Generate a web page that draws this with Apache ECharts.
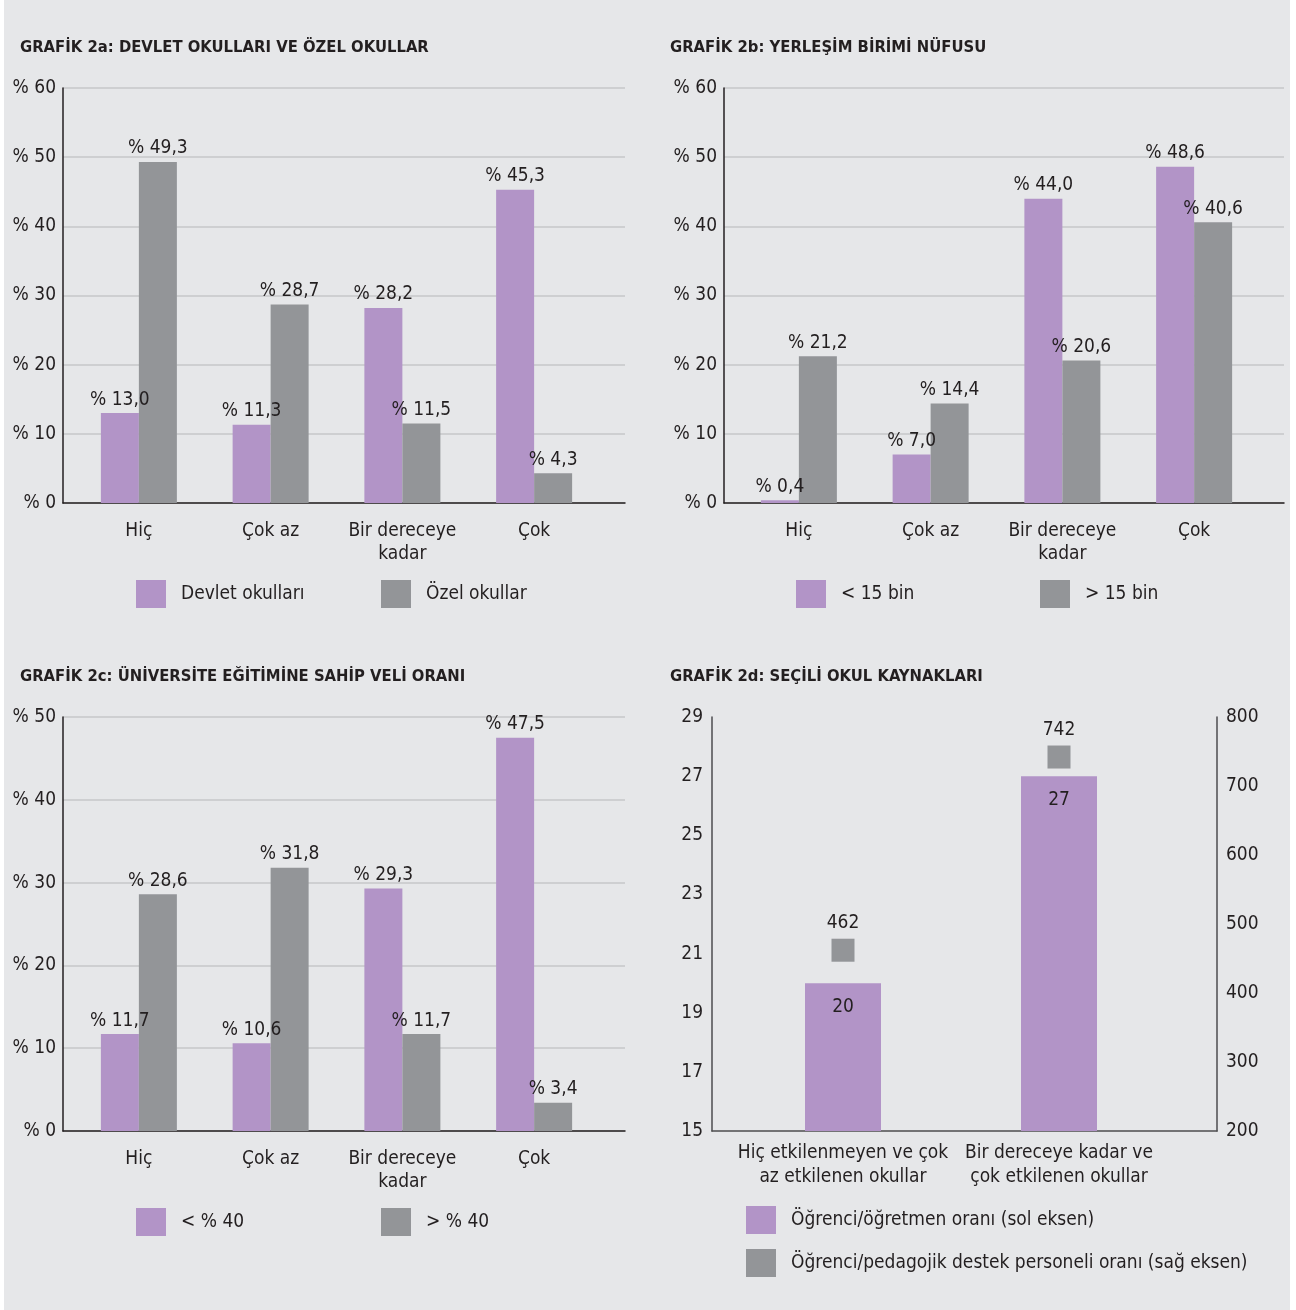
<!DOCTYPE html>
<html>
<head>
<meta charset="utf-8">
<title>Grafik 2</title>
<script src="https://cdn.jsdelivr.net/npm/echarts@6/dist/echarts.min.js"></script>
<style>
  html, body { margin: 0; padding: 0; background: #ffffff; }
  #chart { position: absolute; left: 4px; top: 0; width: 1286px; height: 1310px; background: #e6e7e9; }
</style>
</head>
<body>
<div id="chart"></div>
<script>
// Category labels
const categories = ['Hiç', 'Çok az', 'Bir dereceye\nkadar', 'Çok'];
const categories2d = ['Hiç etkilenmeyen ve çok\naz etkilenen okullar', 'Bir dereceye kadar ve\nçok etkilenen okullar'];

// 2a: public vs private schools (%)
const devletOkullari = [13.0, 11.3, 28.2, 45.3];
const ozelOkullar = [49.3, 28.7, 11.5, 4.3];

// 2b: settlement population (%)
const kucukYerlesim = [0.4, 7.0, 44.0, 48.6];
const buyukYerlesim = [21.2, 14.4, 20.6, 40.6];

// 2c: share of parents with university education (%)
const altYuzde40 = [11.7, 10.6, 29.3, 47.5];
const ustYuzde40 = [28.6, 31.8, 11.7, 3.4];

// 2d: selected school resources
const ogrenciOgretmen = [20, 27];
const ogrenciDestek = [462, 742];

// Axis ticks
const ticksLeft2d = [15, 17, 19, 21, 23, 25, 27, 29];

const PURPLE = '#b294c7';
const GREY = '#939598';
const TEXT = '#231f20';
const FONT = '"Liberation Sans Narrow", "DejaVu Sans Condensed", "Liberation Sans", sans-serif';
const FS = 19;

const pct = v => '% ' + v.toFixed(1).replace('.', ',');

function frameAxes(gridIndex, max) {
  return {
    x: {
      type: 'value', gridIndex, min: 0, max: 1,
      axisLine: { show: true, lineStyle: { color: TEXT, width: 1.5 } },
      axisTick: { show: false }, axisLabel: { show: false }, splitLine: { show: false }
    },
    y: {
      type: 'value', gridIndex, min: 0, max, interval: 10,
      axisLine: { show: true, lineStyle: { color: TEXT, width: 1.5 } },
      axisTick: { show: false },
      axisLabel: { color: TEXT, fontFamily: FONT, fontSize: FS, margin: 7, formatter: v => '% ' + v },
      splitLine: { show: true, lineStyle: { color: '#c6c7c9', width: 1.5 } }
    }
  };
}

function barAxes(gridIndex, max, cats) {
  return {
    x: {
      type: 'category', gridIndex, data: cats,
      axisLine: { show: false }, axisTick: { show: false },
      axisLabel: { color: TEXT, fontFamily: FONT, fontSize: FS, margin: 17, lineHeight: 23, interval: 0 }
    },
    y: { type: 'value', gridIndex, min: 0, max, show: false }
  };
}

function barSeries(name, data, color, xi, yi) {
  return {
    type: 'bar', name, data, xAxisIndex: xi, yAxisIndex: yi,
    barWidth: 38, barGap: '0%',
    itemStyle: { color },
    label: { show: true, position: 'top', distance: 4, color: TEXT, fontFamily: FONT, fontSize: FS, formatter: p => pct(p.value) }
  };
}

function legendItem(name, left, top) {
  return {
    data: [name], left, top, padding: 0, orient: 'vertical',
    icon: 'rect', itemWidth: 30, itemHeight: 28, selectedMode: false,
    textStyle: { color: TEXT, fontFamily: FONT, fontSize: FS, padding: [3, 0, 0, 10] }
  };
}

function titleItem(text, left, top) {
  return { text, left, top, padding: 0, textStyle: { color: TEXT, fontFamily: FONT, fontSize: 16.5, fontWeight: 'bold' } };
}

const f2a = frameAxes(0, 60), b2a = barAxes(1, 60, categories);
const f2b = frameAxes(2, 60), b2b = barAxes(3, 60, categories);
const f2c = frameAxes(4, 50), b2c = barAxes(5, 50, categories);

const axisDark = { show: true, lineStyle: { color: '#4d4d4f', width: 1.5 } };

const option = {
  animation: false,
  title: [
    titleItem('GRAFİK 2a: DEVLET OKULLARI VE ÖZEL OKULLAR', 16, 39),
    titleItem('GRAFİK 2b: YERLEŞİM BİRİMİ NÜFUSU', 666, 39),
    titleItem('GRAFİK 2c: ÜNİVERSİTE EĞİTİMİNE SAHİP VELİ ORANI', 16, 668),
    titleItem('GRAFİK 2d: SEÇİLİ OKUL KAYNAKLARI', 666, 668)
  ],
  legend: [
    legendItem('Devlet okulları', 132, 580),
    legendItem('Özel okullar', 377, 580),
    legendItem('< 15 bin', 792, 580),
    legendItem('> 15 bin', 1036, 580),
    legendItem('< % 40', 132, 1208),
    legendItem('> % 40', 377, 1208),
    legendItem('Öğrenci/öğretmen oranı (sol eksen)', 742, 1206),
    legendItem('Öğrenci/pedagojik destek personeli oranı (sağ eksen)', 742, 1249)
  ],
  grid: [
    { left: 59, top: 88, width: 562, height: 415 },   // 0 2a frame
    { left: 69, top: 88, width: 527, height: 415 },   // 1 2a bars
    { left: 720, top: 88, width: 560, height: 415 },  // 2 2b frame
    { left: 729, top: 88, width: 527, height: 415 },  // 3 2b bars
    { left: 59, top: 717, width: 562, height: 414 },  // 4 2c frame
    { left: 69, top: 717, width: 527, height: 414 },  // 5 2c bars
    { left: 708, top: 717, width: 505, height: 414 }, // 6 2d frame
    { left: 731, top: 717, width: 432, height: 414 }  // 7 2d bars
  ],
  xAxis: [
    f2a.x, b2a.x, f2b.x, b2b.x, f2c.x, b2c.x,
    { type: 'value', gridIndex: 6, min: 0, max: 1,
      axisLine: { show: true, onZero: false, lineStyle: { color: '#4d4d4f', width: 1.5 } },
      axisTick: { show: false }, axisLabel: { show: false }, splitLine: { show: false } },
    { type: 'category', gridIndex: 7, data: categories2d,
      axisLine: { show: false }, axisTick: { show: false },
      axisLabel: { color: TEXT, fontFamily: FONT, fontSize: FS, margin: 10, lineHeight: 24, interval: 0 } }
  ],
  yAxis: [
    f2a.y, b2a.y, f2b.y, b2b.y, f2c.y, b2c.y,
    // 6: 2d left (student/teacher)
    { type: 'value', gridIndex: 6, min: 15, max: 29, position: 'left',
      axisLine: axisDark, axisTick: { show: false }, splitLine: { show: false },
      axisLabel: { color: TEXT, fontFamily: FONT, fontSize: FS, margin: 9, customValues: ticksLeft2d } },
    // 7: 2d right (student/support staff)
    { type: 'value', gridIndex: 6, min: 200, max: 800, interval: 100, position: 'right',
      axisLine: axisDark, axisTick: { show: false }, splitLine: { show: false },
      axisLabel: { color: TEXT, fontFamily: FONT, fontSize: FS, margin: 9 } },
    // 8, 9: hidden scales for the 2d marks
    { type: 'value', gridIndex: 7, min: 15, max: 29, show: false },
    { type: 'value', gridIndex: 7, min: 200, max: 800, show: false, position: 'right' }
  ],
  series: [
    barSeries('Devlet okulları', devletOkullari, PURPLE, 1, 1),
    barSeries('Özel okullar', ozelOkullar, GREY, 1, 1),
    barSeries('< 15 bin', kucukYerlesim, PURPLE, 3, 3),
    barSeries('> 15 bin', buyukYerlesim, GREY, 3, 3),
    barSeries('< % 40', altYuzde40, PURPLE, 5, 5),
    barSeries('> % 40', ustYuzde40, GREY, 5, 5),
    {
      type: 'bar', name: 'Öğrenci/öğretmen oranı (sol eksen)', data: ogrenciOgretmen,
      xAxisIndex: 7, yAxisIndex: 8, barWidth: 76,
      itemStyle: { color: PURPLE },
      label: { show: true, position: 'insideTop', distance: 14, color: TEXT, fontFamily: FONT, fontSize: FS }
    },
    {
      type: 'scatter', name: 'Öğrenci/pedagojik destek personeli oranı (sağ eksen)', data: ogrenciDestek,
      xAxisIndex: 7, yAxisIndex: 9, symbol: 'rect', symbolSize: [23, 23],
      itemStyle: { color: GREY, opacity: 1 },
      label: { show: true, position: 'top', distance: 6, color: TEXT, fontFamily: FONT, fontSize: FS }
    }
  ]
};

const chart = echarts.init(document.getElementById('chart'), null, { renderer: 'canvas' });
chart.setOption(option);
</script>
</body>
</html>
